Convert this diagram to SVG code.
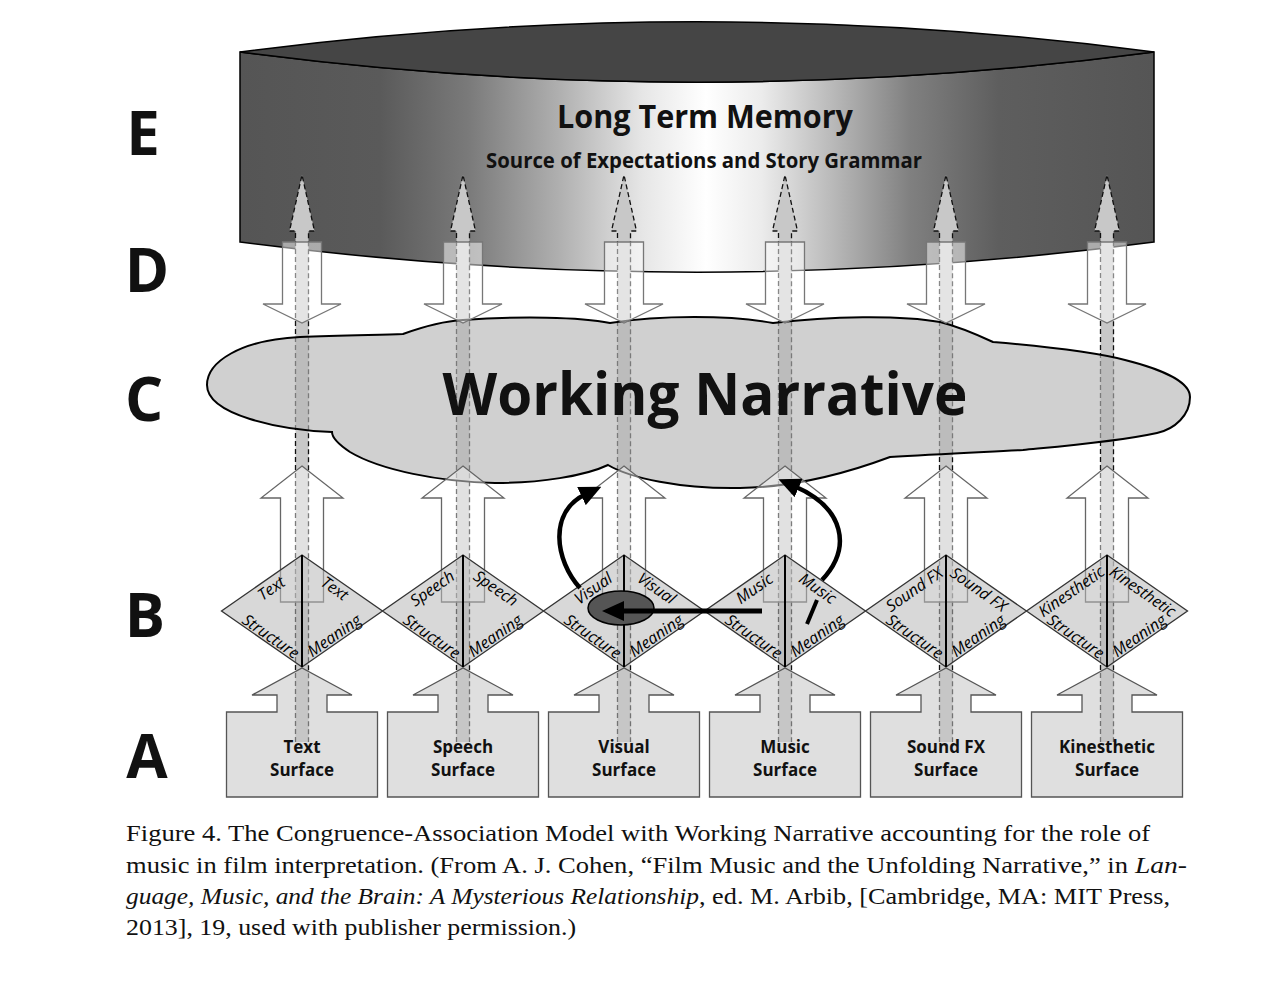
<svg xmlns="http://www.w3.org/2000/svg" width="1280" height="981" viewBox="0 0 1280 981">
<style>
.lbl{font-family:"Open Sans","DejaVu Sans",sans-serif;font-weight:700;fill:#111}
.big{font-size:60px;text-anchor:middle}
.dt{font-family:"Open Sans","DejaVu Sans",sans-serif;font-style:italic;font-size:16px;text-anchor:middle;dominant-baseline:central;fill:#000}
.bt{font-family:"Open Sans","DejaVu Sans",sans-serif;font-weight:700;font-size:17px;text-anchor:middle;fill:#111}
.box{fill:#c4c4c4;fill-opacity:.55;stroke:#555;stroke-width:1.3}
.dia{fill:#b8b8b8;fill-opacity:.55;stroke:#333;stroke-width:1.3}
.dv{stroke:#000;stroke-width:2}
.band{fill:#c8c8c8;stroke:#111;stroke-width:1.3;stroke-dasharray:5 3}
.darr{fill:#fff;fill-opacity:.5;stroke:#777;stroke-width:1.3}
.uarr{fill:#fff;fill-opacity:.45;stroke:#666;stroke-width:1.3}
.cap{font-family:"Liberation Serif","Times New Roman",serif;font-size:24px;fill:#111}
.it{font-style:italic}
.thick{fill:none;stroke:#000;stroke-width:4.5}
</style>
<defs>
<linearGradient id="cyl" gradientUnits="userSpaceOnUse" x1="240" y1="0" x2="1154" y2="0">
<stop offset="0" stop-color="#555"/>
<stop offset="0.153" stop-color="#5a5a5a"/>
<stop offset="0.25" stop-color="#7a7a7a"/>
<stop offset="0.35" stop-color="#b0b0b0"/>
<stop offset="0.44" stop-color="#e6e6e6"/>
<stop offset="0.51" stop-color="#fff"/>
<stop offset="0.57" stop-color="#ececec"/>
<stop offset="0.656" stop-color="#b4b4b4"/>
<stop offset="0.733" stop-color="#808080"/>
<stop offset="0.83" stop-color="#5e5e5e"/>
<stop offset="1" stop-color="#555"/>
</linearGradient>
<marker id="ah1" viewBox="0 0 22 20" refX="5" refY="10" markerWidth="22" markerHeight="20" markerUnits="userSpaceOnUse" orient="auto"><path d="M0,0 L22,10 L0,20 Z" fill="#000"/></marker>
<marker id="ah2" viewBox="0 0 22 20" refX="4" refY="10" markerWidth="22" markerHeight="20" markerUnits="userSpaceOnUse" orient="auto"><path d="M0,0 L22,10 L0,20 Z" fill="#000"/></marker>
</defs>
<rect width="1280" height="981" fill="#fff"/>

<!-- Long Term Memory cylinder -->
<g id="ltm">
<path d="M240,52 A3496,3496 0 0 0 1154,52 L1154,242 A3496,3496 0 0 1 240,242 Z" fill="url(#cyl)" stroke="#000" stroke-width="1.5"/>
<path d="M240,52 A3496,3496 0 0 1 1154,52 A3496,3496 0 0 1 240,52 Z" fill="#454545" stroke="#000" stroke-width="1.5"/>
</g>

<!-- dashed bands (behind translucent shapes) -->
<g id="connectors-back">
<path class="band" d="M295.5,742 L295.5,231 L289.5,231 L302,175 L314.5,231 L308.5,231 L308.5,742"/>
<path class="band" d="M456.5,742 L456.5,231 L450.5,231 L463,175 L475.5,231 L469.5,231 L469.5,742"/>
<path class="band" d="M617.5,742 L617.5,231 L611.5,231 L624,175 L636.5,231 L630.5,231 L630.5,742"/>
<path class="band" d="M778.5,742 L778.5,231 L772.5,231 L785,175 L797.5,231 L791.5,231 L791.5,742"/>
<path class="band" d="M939.5,742 L939.5,231 L933.5,231 L946,175 L958.5,231 L952.5,231 L952.5,742"/>
<path class="band" d="M1100.5,742 L1100.5,231 L1094.5,231 L1107,175 L1119.5,231 L1113.5,231 L1113.5,742"/>
</g>

<g id="ltm-text">
<text class="lbl" x="705" y="128" font-size="32" text-anchor="middle" textLength="296" lengthAdjust="spacingAndGlyphs">Long Term Memory</text>
<text class="lbl" x="704" y="168" font-size="21" text-anchor="middle" textLength="436" lengthAdjust="spacingAndGlyphs">Source of Expectations and Story Grammar</text>
</g>

<!-- Working Narrative cloud -->
<g id="working-narrative">
<path d="M207,385 C207,362 240,340 300,337 C340,335 380,335 403,334 C425,326 445,321 463,320 C520,316 580,317 610,323 C660,315 730,315 773,323 C830,316 900,315 940,322 C960,327 978,335 993,342 C1040,346 1090,351 1125,360 C1165,370 1190,383 1190,397 C1190,415 1175,429 1157,433 C1115,442 1065,446 1023,450 C985,452 935,454 890,457 C850,472 800,487 740,488 C680,489 630,478 608,465 C585,476 540,483 495,483 C440,482 380,470 350,452 C338,444 332,438 332,432 C280,430 207,415 207,385 Z" fill="#b5b5b5" fill-opacity=".64" stroke="#000" stroke-width="2"/>
<text class="lbl" x="705" y="415" font-size="59" text-anchor="middle" textLength="525" lengthAdjust="spacingAndGlyphs">Working Narrative</text>
</g>

<!-- hollow flow arrows (D: LTM to narrative, B to C: up) -->
<g id="flow-arrows">
<path class="darr" d="M282.5,242 L321.5,242 L321.5,304 L341,304 L302,323 L263,304 L282.5,304 Z"/>
<path class="darr" d="M443.5,242 L482.5,242 L482.5,304 L502,304 L463,323 L424,304 L443.5,304 Z"/>
<path class="darr" d="M604.5,242 L643.5,242 L643.5,304 L663,304 L624,323 L585,304 L604.5,304 Z"/>
<path class="darr" d="M765.5,242 L804.5,242 L804.5,304 L824,304 L785,323 L746,304 L765.5,304 Z"/>
<path class="darr" d="M926.5,242 L965.5,242 L965.5,304 L985,304 L946,323 L907,304 L926.5,304 Z"/>
<path class="darr" d="M1087.5,242 L1126.5,242 L1126.5,304 L1146,304 L1107,323 L1068,304 L1087.5,304 Z"/>

<path class="uarr" d="M302,466 L343,498 L323.5,498 L323.5,602 L280.5,602 L280.5,498 L261,498 Z"/>
<path class="uarr" d="M463,466 L504,498 L484.5,498 L484.5,602 L441.5,602 L441.5,498 L422,498 Z"/>
<path class="uarr" d="M624,466 L665,498 L645.5,498 L645.5,602 L602.5,602 L602.5,498 L583,498 Z"/>
<path class="uarr" d="M785,466 L826,498 L806.5,498 L806.5,602 L763.5,602 L763.5,498 L744,498 Z"/>
<path class="uarr" d="M946,466 L987,498 L967.5,498 L967.5,602 L924.5,602 L924.5,498 L905,498 Z"/>
<path class="uarr" d="M1107,466 L1148,498 L1128.5,498 L1128.5,602 L1085.5,602 L1085.5,498 L1067,498 Z"/>
</g>

<!-- Row letters -->
<g id="row-labels">
<text class="lbl big" x="143" y="155">E</text>
<text class="lbl big" x="147" y="292">D</text>
<text class="lbl big" x="144" y="421">C</text>
<text class="lbl big" x="145" y="637">B</text>
<text class="lbl big" x="147" y="778">A</text>
</g>

<!-- B diamonds -->
<g id="text-diamond">
<path class="dia" d="M302,555 L382.5,611 L302,667 L221.5,611 Z"/>
<line class="dv" x1="302" y1="555" x2="302" y2="667"/>
<text class="dt" transform="translate(271,588) rotate(-34.8)">Text</text>
<text class="dt" transform="translate(335,588) rotate(34.8)">Text</text>
<text class="dt" transform="translate(271,636) rotate(34.8)">Structure</text>
<text class="dt" transform="translate(334,635) rotate(-34.8)">Meaning</text>
</g>
<g id="speech-diamond">
<path class="dia" d="M463,555 L543.5,611 L463,667 L382.5,611 Z"/>
<line class="dv" x1="463" y1="555" x2="463" y2="667"/>
<text class="dt" transform="translate(432,588) rotate(-34.8)">Speech</text>
<text class="dt" transform="translate(496,588) rotate(34.8)">Speech</text>
<text class="dt" transform="translate(432,636) rotate(34.8)">Structure</text>
<text class="dt" transform="translate(495,635) rotate(-34.8)">Meaning</text>
</g>
<g id="visual-diamond">
<path class="dia" d="M624,555 L704.5,611 L624,667 L543.5,611 Z"/>
<line class="dv" x1="624" y1="555" x2="624" y2="667"/>
<text class="dt" transform="translate(593,588) rotate(-34.8)">Visual</text>
<text class="dt" transform="translate(657,588) rotate(34.8)">Visual</text>
<text class="dt" transform="translate(593,636) rotate(34.8)">Structure</text>
<text class="dt" transform="translate(656,635) rotate(-34.8)">Meaning</text>
</g>
<g id="music-diamond">
<path class="dia" d="M785,555 L865.5,611 L785,667 L704.5,611 Z"/>
<line class="dv" x1="785" y1="555" x2="785" y2="667"/>
<text class="dt" transform="translate(754,588) rotate(-34.8)">Music</text>
<text class="dt" transform="translate(818,588) rotate(34.8)">Music</text>
<text class="dt" transform="translate(754,636) rotate(34.8)">Structure</text>
<text class="dt" transform="translate(817,635) rotate(-34.8)">Meaning</text>
</g>
<g id="soundfx-diamond">
<path class="dia" d="M946,555 L1026.5,611 L946,667 L865.5,611 Z"/>
<line class="dv" x1="946" y1="555" x2="946" y2="667"/>
<text class="dt" transform="translate(914,589) rotate(-34.8)">Sound FX</text>
<text class="dt" transform="translate(979,589) rotate(34.8)">Sound FX</text>
<text class="dt" transform="translate(915,636) rotate(34.8)">Structure</text>
<text class="dt" transform="translate(978,635) rotate(-34.8)">Meaning</text>
</g>
<g id="kinesthetic-diamond">
<path class="dia" d="M1107,555 L1187.5,611 L1107,667 L1026.5,611 Z"/>
<line class="dv" x1="1107" y1="555" x2="1107" y2="667"/>
<text class="dt" transform="translate(1071,591) rotate(-34.8)">Kinesthetic</text>
<text class="dt" transform="translate(1143,591) rotate(34.8)">Kinesthetic</text>
<text class="dt" transform="translate(1076,636) rotate(34.8)">Structure</text>
<text class="dt" transform="translate(1139,635) rotate(-34.8)">Meaning</text>
</g>

<!-- A surfaces -->
<g id="text-surface">
<path class="box" d="M226.5,712 L277,712 L277,695 L252,695 L302,668 L352,695 L327,695 L327,712 L377.5,712 L377.5,797 L226.5,797 Z"/>
<text class="bt" x="302" y="753">Text</text><text class="bt" x="302" y="776">Surface</text>
</g>
<g id="speech-surface">
<path class="box" d="M387.5,712 L438,712 L438,695 L413,695 L463,668 L513,695 L488,695 L488,712 L538.5,712 L538.5,797 L387.5,797 Z"/>
<text class="bt" x="463" y="753">Speech</text><text class="bt" x="463" y="776">Surface</text>
</g>
<g id="visual-surface">
<path class="box" d="M548.5,712 L599,712 L599,695 L574,695 L624,668 L674,695 L649,695 L649,712 L699.5,712 L699.5,797 L548.5,797 Z"/>
<text class="bt" x="624" y="753">Visual</text><text class="bt" x="624" y="776">Surface</text>
</g>
<g id="music-surface">
<path class="box" d="M709.5,712 L760,712 L760,695 L735,695 L785,668 L835,695 L810,695 L810,712 L860.5,712 L860.5,797 L709.5,797 Z"/>
<text class="bt" x="785" y="753">Music</text><text class="bt" x="785" y="776">Surface</text>
</g>
<g id="soundfx-surface">
<path class="box" d="M870.5,712 L921,712 L921,695 L896,695 L946,668 L996,695 L971,695 L971,712 L1021.5,712 L1021.5,797 L870.5,797 Z"/>
<text class="bt" x="946" y="753">Sound FX</text><text class="bt" x="946" y="776">Surface</text>
</g>
<g id="kinesthetic-surface">
<path class="box" d="M1031.5,712 L1082,712 L1082,695 L1057,695 L1107,668 L1157,695 L1132,695 L1132,712 L1182.5,712 L1182.5,797 L1031.5,797 Z"/>
<text class="bt" x="1107" y="753">Kinesthetic</text><text class="bt" x="1107" y="776">Surface</text>
</g>

<!-- connectors -->
<g id="connectors">
<path class="thick" d="M580,588 C555,560 548,512 586,494" marker-end="url(#ah1)"/>
<path class="thick" d="M822,580 C852,548 845,508 794,486" marker-end="url(#ah1)"/>
<ellipse cx="621" cy="608" rx="33" ry="17" fill="#555" stroke="#000" stroke-width="1.5"/>
<line x1="762" y1="611" x2="620" y2="611" stroke="#000" stroke-width="5" marker-end="url(#ah2)"/>
<line x1="807" y1="624" x2="817" y2="600" stroke="#000" stroke-width="4"/>
</g>

<!-- caption -->
<g id="caption">
<text class="cap" x="126" y="841" textLength="1024" lengthAdjust="spacingAndGlyphs">Figure 4. The Congruence-Association Model with Working Narrative accounting for the role of</text>
<text class="cap" x="126" y="873" textLength="1002" lengthAdjust="spacingAndGlyphs">music in film interpretation. (From A. J. Cohen, “Film Music and the Unfolding Narrative,” in</text>
<text class="cap it" x="1135" y="873" textLength="52" lengthAdjust="spacingAndGlyphs">Lan-</text>
<text class="cap it" x="126" y="904" textLength="573" lengthAdjust="spacingAndGlyphs">guage, Music, and the Brain: A Mysterious Relationship</text>
<text class="cap" x="699" y="904" textLength="471" lengthAdjust="spacingAndGlyphs">, ed. M. Arbib, [Cambridge, MA: MIT Press,</text>
<text class="cap" x="126" y="935" textLength="450" lengthAdjust="spacingAndGlyphs">2013], 19, used with publisher permission.)</text>
</g>
</svg>
